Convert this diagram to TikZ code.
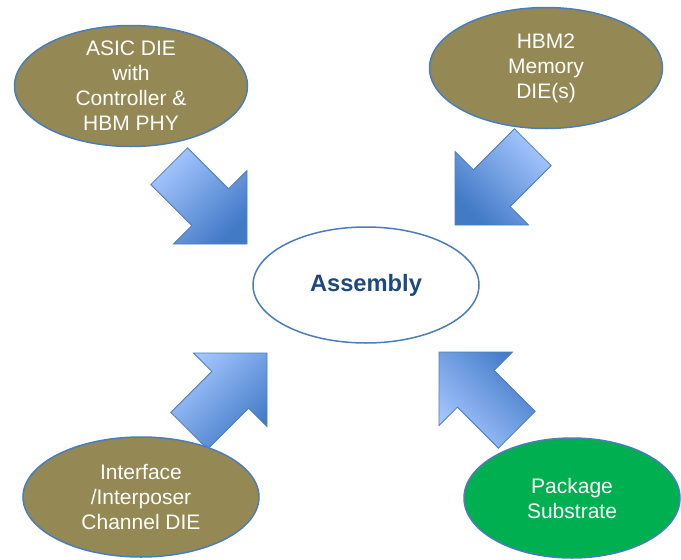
\documentclass[tikz,border=0pt]{standalone}
\usepackage{fontspec}
\setmainfont{Liberation Sans}
\usetikzlibrary{shapes.geometric}

\definecolor{dieolive}{RGB}{148,136,84}
\definecolor{subgreen}{RGB}{0,176,80}
\definecolor{rimblue}{RGB}{74,126,187}
\definecolor{arrlight}{RGB}{166,199,255}
\definecolor{arrdark}{RGB}{66,122,198}
\definecolor{asmblue}{RGB}{31,73,125}

\begin{document}
\begin{tikzpicture}[
  x=1pt, y=-1pt,
  die/.style={
    ellipse, draw=rimblue, line width=1.5pt, fill=dieolive,
    inner sep=0pt, minimum width=233pt, minimum height=121pt
  },
  dietext/.style={text=white, font=\fontsize{21}{25}\selectfont, align=center},
  % diagonal block arrow, tip at the origin, #1/#2 = x/y direction
  blockpath/.style 2 args={insert path={
    (-59.4*#1,-96.2*#2) -- (-18.4*#1,-55.2*#2) -- (0,-73.5*#2) -- (0,0)
    -- (-73.5*#1,0) -- (-55.2*#1,-18.4*#2) -- (-96.2*#1,-59.4*#2) -- cycle}},
  blk/.style={draw=rimblue, line width=0.8pt, top color=arrlight, bottom color=arrdark}
]
\useasboundingbox (0,0) rectangle (681,560);

% Arrow tips
\coordinate (tipasic) at (247,244);
\coordinate (tiphbm)  at (455,225);
\coordinate (tipintf) at (267,353);
\coordinate (tippkg)  at (439,352);

% Block arrows towards the assembly
\draw[blk, shading angle=45,  shift={(tipasic)}, blockpath={1}{1}];
\draw[blk, shading angle=-45, shift={(tiphbm)},  blockpath={-1}{1}];
\draw[blk, shading angle=45,  shift={(tipintf)}, blockpath={1}{-1}];
\draw[blk, shading angle=135, shift={(tippkg)},  blockpath={-1}{-1}];

% Dies and parts
\node[die, label={[dietext]center:ASIC DIE\\with\\Controller \&\\HBM PHY}]
     (asic) at (131,86) {};
\node[die, label={[dietext]center:HBM2\\Memory\\DIE(s)}]
     (hbm) at (546,68) {};
\node[die, minimum width=236pt, minimum height=120pt,
      label={[dietext]center:Interface\\/Interposer\\Channel DIE}]
     (intf) at (141,497) {};
\node[die, fill=subgreen, minimum width=216pt, minimum height=120pt,
      label={[dietext]center:Package\\Substrate}]
     (pkg) at (572,498) {};

% Assembly
\node[ellipse, draw=rimblue, line width=1.5pt, fill=white, inner sep=0pt,
      minimum width=226pt, minimum height=116pt,
      font=\fontsize{23.7}{28}\selectfont\bfseries, text=asmblue]
     (asm) at (366,285) {Assembly};

\end{tikzpicture}
\end{document}
